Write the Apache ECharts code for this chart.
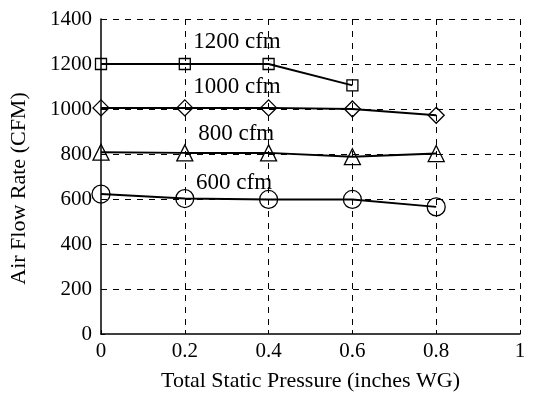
<!DOCTYPE html>
<html><head><meta charset="utf-8">
<script src="https://cdn.jsdelivr.net/npm/echarts@6/dist/echarts.min.js"></script>
<style>html,body{margin:0;padding:0;background:#fff}#c{width:554px;height:394px}</style>
</head><body><div id="c"></div>
<script>
const pressure = [0, 0.2, 0.4, 0.6, 0.8];
const flow1200 = [1200, 1200, 1200, 1105];
const flow1000 = [1005, 1005, 1005, 1000, 972];
const flow800 = [808, 805, 805, 788, 802];
const flow600 = [622, 602, 598, 598, 565];
const seriesNames = ['1200 cfm', '1000 cfm', '800 cfm', '600 cfm'];
const labelX = [0.22, 0.22, 0.232, 0.227];
const labelY = [1298, 1098, 889, 671];

const font = 'Liberation Serif';
const chart = echarts.init(document.getElementById('c'));
function mk(name, vals, symbol, size) {
  return {
    name, type: 'line', symbol, symbolSize: size,
    data: vals.map((v, i) => [pressure[i], v]),
    lineStyle: {color: '#000', width: 2},
    itemStyle: {color: 'rgba(0,0,0,0)', borderColor: '#000', borderWidth: 1.3},
    emphasis: {disabled: true}, animation: false, z: 3
  };
}
const series = [
  mk(seriesNames[0], flow1200, 'rect', 11),
  mk(seriesNames[1], flow1000, 'diamond', 16),
  mk(seriesNames[2], flow800, 'triangle', 16),
  mk(seriesNames[3], flow600, 'circle', 18)
];
const splitStyle = {color: '#000', type: [6, 6], width: 1};
chart.setOption({
  animation: false,
  grid: {left: 101, right: 34, top: 19, bottom: 60, outerBoundsMode: 'none', containLabel: false},
  xAxis: {
    type: 'value', min: 0, max: 1, interval: 0.2,
    name: 'Total Static Pressure (inches WG)', nameLocation: 'middle', nameGap: 36,
    nameTextStyle: {color: '#000', fontFamily: font, fontSize: 22},
    axisLine: {lineStyle: {color: '#000', width: 1.5}},
    axisTick: {show: true, inside: true, length: 4, lineStyle: {color: '#000'}},
    axisLabel: {color: '#000', fontFamily: font, fontSize: 21, margin: 7, formatter: v => v === 1 ? '1' : (v === 0 ? '0' : v.toFixed(1))},
    splitLine: {show: true, showMinLine: false, showMaxLine: true, lineStyle: splitStyle}
  },
  yAxis: {
    type: 'value', min: 0, max: 1400, interval: 200,
    name: 'Air Flow Rate (CFM)', nameLocation: 'middle', nameGap: 71, nameRotate: 90,
    nameTextStyle: {color: '#000', fontFamily: font, fontSize: 22, padding: [0, 24, 0, 0]},
    axisLine: {show: true, lineStyle: {color: '#000', width: 1.5}},
    axisTick: {show: true, inside: true, length: 4, lineStyle: {color: '#000'}},
    axisLabel: {color: '#000', fontFamily: font, fontSize: 21, margin: 9, formatter: v => String(v)},
    splitLine: {show: true, showMinLine: false, showMaxLine: true, lineStyle: splitStyle}
  },
  series
});
const texts = seriesNames.map((n, i) => {
  const p = chart.convertToPixel({gridIndex: 0}, [labelX[i], labelY[i]]);
  return {type: 'text', x: p[0], y: p[1], z: 10, silent: true,
    style: {text: n, fill: '#000', font: '23px "Liberation Serif"', textAlign: 'left', textVerticalAlign: 'middle'}};
});
chart.setOption({graphic: texts});
</script></body></html>
